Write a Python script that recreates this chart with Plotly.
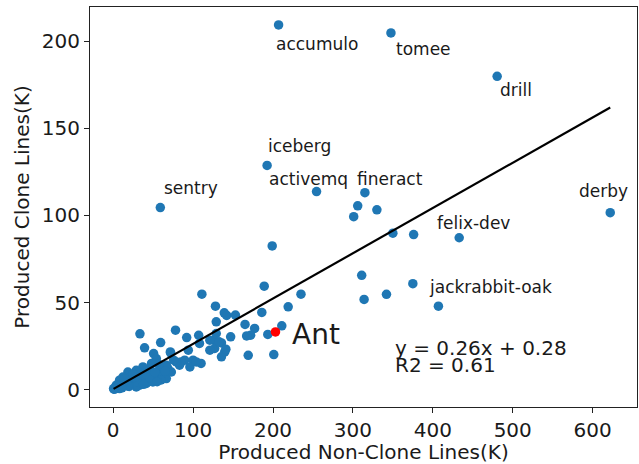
import plotly.graph_objects as go

# ---------------- data (K lines) ----------------
label_names = ["accumulo", "tomee", "drill", "derby", "iceberg", "activemq",
               "fineract", "sentry", "felix-dev", "jackrabbit-oak"]
label_x = [207, 347.6, 480.5, 622, 192.6, 254.5, 315, 59, 433, 407]
label_y = [209.4, 204.8, 179.9, 101.6, 128.7, 113.7, 113.1, 104.5, 87.2, 47.9]

ant_name = "Ant"
ant_x = [203.1]
ant_y = [33.1]

other_x = [
    306, 330, 301, 350, 376, 199, 311, 375, 314, 342, 189, 235, 219, 186, 211, 193.5,
    111, 128, 139, 142, 153,
    129, 165, 177, 172, 167, 147, 129, 126, 135.5, 127, 139.6, 135.5, 141, 121, 121,
    108, 107, 92, 78, 94, 110, 100, 89.5, 83, 96, 104, 85, 169, 201, 132.5,
    33.5, 59.4, 39.3, 50.6, 54, 71.9, 79, 68.5, 58.1, 45.6, 37.2, 28.9, 18.4, 12.2,
    8, 3.9, 0.5, 20.6, 33.1, 24.7, 41.5, 54, 62.3, 66.5, 72.8, 49.7, 41.5, 12.2,
    28.9, 8, 16.4, 22.7, 33.1, 45.6, 62.3, 75.7, 66.5, 71.5,
    2, 5, 10, 15, 25, 35, 45, 52, 60, 30, 20, 38, 55, 65, 48, 57, 40, 27, 18, 4,
    1, 6, 14, 11,
]
other_y = [
    105.5, 103.2, 99.3, 89.8, 89.0, 82.5, 65.6, 60.8, 51.8, 54.7, 59.4, 54.8, 47.5, 44.3, 36.6, 31.7,
    54.8, 47.9, 44.1, 42.6, 42.8,
    38.9, 37.4, 35.1, 31.2, 30.8, 30.3, 32.2, 28.4, 26.8, 23.6, 21.6, 18.8, 23.2, 22.6, 28.4,
    26.5, 31.2, 29.9, 34.1, 22.6, 15, 16.9, 16.9, 14, 13, 15.9, 15.9, 19.7, 20.1, 27.4,
    32, 27, 24, 20.7, 17.8, 21.1, 15.9, 12.1, 11.1, 12.1, 13, 11.1, 10.1, 7.2,
    5.4, 2.5, 0.6, 3.5, 2.5, 5.4, 6.3, 7.2, 8.2, 6.3, 10.1, 4.4, 3.5, 2.5,
    1.5, 0.6, 5.4, 7.2, 9.2, 9.2, 13, 16.9, 14, 21.6,
    0.3, 1.5, 3, 4, 9, 6, 7, 10, 5.5, 4.5, 1.8, 3, 4.5, 10.5, 15, 14.5, 9, 7, 2, 0.8,
    0.2, 2, 6, 1,
]

fit_slope = 0.26
fit_intercept = 0.28
fit_r2 = 0.61

x_ticks = [0, 100, 200, 300, 400, 500, 600]
y_ticks = [0, 50, 100, 150, 200]

# ---------------- styling (pixel offsets of labels from their points) ----------------
label_offsets = {
    "accumulo": (-4.4, -18.7), "tomee": (3.3, -15.7), "drill": (1.3, -14),
    "iceberg": (-0.6, 19.7), "activemq": (-50, 12.7), "fineract": (-10, 13.7),
    "sentry": (2, 19.4), "derby": (-33.3, 21.4), "felix-dev": (-24.3, 14.7),
    "jackrabbit-oak": (-11.6, 18.7),
}
FONT = "DejaVu Sans"
BLUE = "#1f77b4"

all_x = label_x + other_x + ant_x
all_y = label_y + other_y + ant_y

fig = go.Figure()

fig.add_trace(go.Scatter(
    x=label_x + other_x, y=label_y + other_y, mode="markers",
    marker=dict(color=BLUE, size=9.5, line=dict(width=0)), showlegend=False))

# regression line over data x-range
x_min, x_max = min(all_x), max(all_x)
fig.add_trace(go.Scatter(
    x=[x_min, x_max],
    y=[fit_slope * x_min + fit_intercept, fit_slope * x_max + fit_intercept],
    mode="lines", line=dict(color="black", width=2.2), showlegend=False))

fig.add_trace(go.Scatter(
    x=ant_x, y=ant_y, mode="markers",
    marker=dict(color="red", size=9.5, line=dict(width=0)), showlegend=False))

annotations = []
for n, x, y in zip(label_names, label_x, label_y):
    dx, dy = label_offsets[n]
    annotations.append(dict(x=x, y=y, xref="x", yref="y", text=n, showarrow=False,
                            xanchor="left", yanchor="middle", xshift=dx, yshift=dy,
                            font=dict(family=FONT, size=17, color="#1a1a1a")))
annotations.append(dict(x=ant_x[0], y=ant_y[0], xref="x", yref="y", text=ant_name,
                        showarrow=False, xanchor="left", yanchor="middle",
                        xshift=15, yshift=-2.8,
                        font=dict(family=FONT, size=28, color="#1a1a1a")))
annotations.append(dict(x=350, y=20, xref="x", yref="y",
                        text=f"y = {fit_slope}x + {fit_intercept}", showarrow=False,
                        xanchor="left", yanchor="middle", yshift=7,
                        font=dict(family=FONT, size=20, color="#1a1a1a")))
annotations.append(dict(x=350, y=10, xref="x", yref="y",
                        text=f"R2 = {fit_r2}", showarrow=False,
                        xanchor="left", yanchor="middle", yshift=7,
                        font=dict(family=FONT, size=20, color="#1a1a1a")))

axis_common = dict(showgrid=False, zeroline=False, showline=True, mirror=True,
                   linecolor="#222", linewidth=1.2, ticks="outside", ticklen=5,
                   tickwidth=1.2, tickcolor="#222",
                   tickfont=dict(family=FONT, size=20, color="#1a1a1a"))

fig.update_layout(
    width=639, height=464,
    margin=dict(l=90, r=2, t=7, b=57, autoexpand=False),
    plot_bgcolor="white", paper_bgcolor="white",
    annotations=annotations,
    xaxis=dict(range=[-29, 655.5], tickvals=x_ticks,
               title=dict(text="Produced Non-Clone Lines(K)", standoff=4,
                          font=dict(family=FONT, size=20, color="#1a1a1a")),
               **axis_common),
    yaxis=dict(range=[-10, 219.7], tickvals=y_ticks,
               title=dict(text="Produced Clone Lines(K)", standoff=6,
                          font=dict(family=FONT, size=20, color="#1a1a1a")),
               **axis_common),
)

fig.write_html("out.html", config={"displayModeBar": False},
               post_script="document.body.style.margin='0px';document.body.style.overflow='hidden';")
